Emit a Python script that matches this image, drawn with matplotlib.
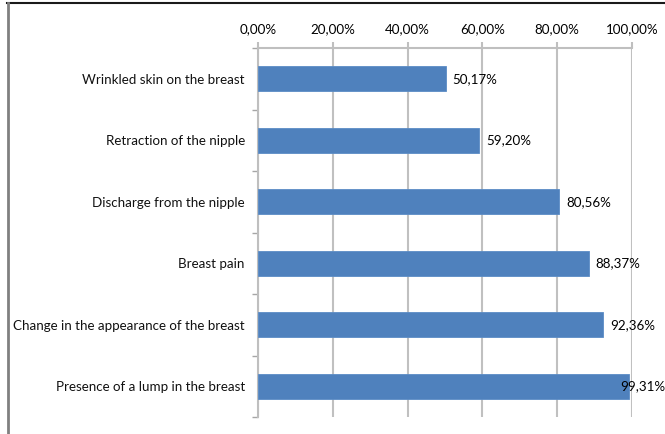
import matplotlib

matplotlib.use('agg')

import matplotlib.pyplot as plt
from matplotlib.lines import Line2D
from matplotlib.ticker import FixedLocator

symptoms = [
    'Wrinkled skin on the breast',
    'Retraction of the nipple',
    'Discharge from the nipple',
    'Breast pain',
    'Change in the appearance of the breast',
    'Presence of a lump in the breast',
]
shares = [50.17, 59.20, 80.56, 88.37, 92.36, 99.31]
ticks = [0, 20, 40, 60, 80, 100]


def pct(v):
    return ('%.2f%%' % v).replace('.', ',')


def main():
    plt.rcParams['font.family'] = ['Lato', 'DejaVu Sans']
    fig = plt.figure(figsize=(6.65, 4.34), dpi=100)
    ax = fig.add_axes([258 / 665, 1 - 417 / 434, (632 - 258) / 665, (417 - 48) / 434])

    pos = list(range(len(symptoms)))
    ax.barh(pos, shares, height=0.4, color='#4F81BD', edgecolor='#5B8CC6',
            linewidth=0.6, zorder=3)
    for y, v in zip(pos, shares):
        # the longest bar gets its label pulled back so it stays inside
        dx = -6.5 if v > 95 else 5
        ax.annotate(pct(v), (v, y), xytext=(dx, 0), textcoords='offset points',
                    va='center', ha='left', fontsize=9.6, color='black', zorder=4)

    ax.set_xlim(0, 100)
    ax.set_ylim(len(symptoms) - 0.5, -0.5)
    ax.set_xticks(ticks)
    ax.set_xticklabels([pct(t) for t in ticks], fontsize=9.6)
    ax.xaxis.tick_top()
    ax.tick_params(axis='x', length=4, width=1.5, color='#BFBFBF', pad=5)
    ax.grid(axis='x', color='#C0C0C0', linewidth=1.5, zorder=0)

    ax.set_yticks(pos)
    ax.set_yticklabels(symptoms, fontsize=9.6, color='#111111')
    ax.tick_params(axis='y', which='major', length=0, pad=9.5)
    ax.yaxis.set_minor_locator(FixedLocator([p + 0.5 for p in pos[:-1]] + [-0.5, len(pos) - 0.5]))
    ax.tick_params(axis='y', which='minor', length=4, width=1, color='#A6A6A6')

    for side in ('right', 'bottom'):
        ax.spines[side].set_visible(False)
    ax.spines['top'].set_color('#BFBFBF')
    ax.spines['top'].set_linewidth(1.5)
    ax.spines['left'].set_color('#BFBFBF')
    ax.spines['left'].set_linewidth(1.5)

    # outer frame of the chart area
    fig.add_artist(Line2D([7 / 665, 1], [1 - 3 / 434, 1 - 3 / 434],
                          transform=fig.transFigure, color='#1A1A1A', linewidth=1.5))
    fig.add_artist(Line2D([7.5 / 665, 7.5 / 665], [0, 1 - 3 / 434],
                          transform=fig.transFigure, color='#808080', linewidth=2))

    fig.savefig('out.png', dpi=100)


if __name__ == '__main__':
    main()
